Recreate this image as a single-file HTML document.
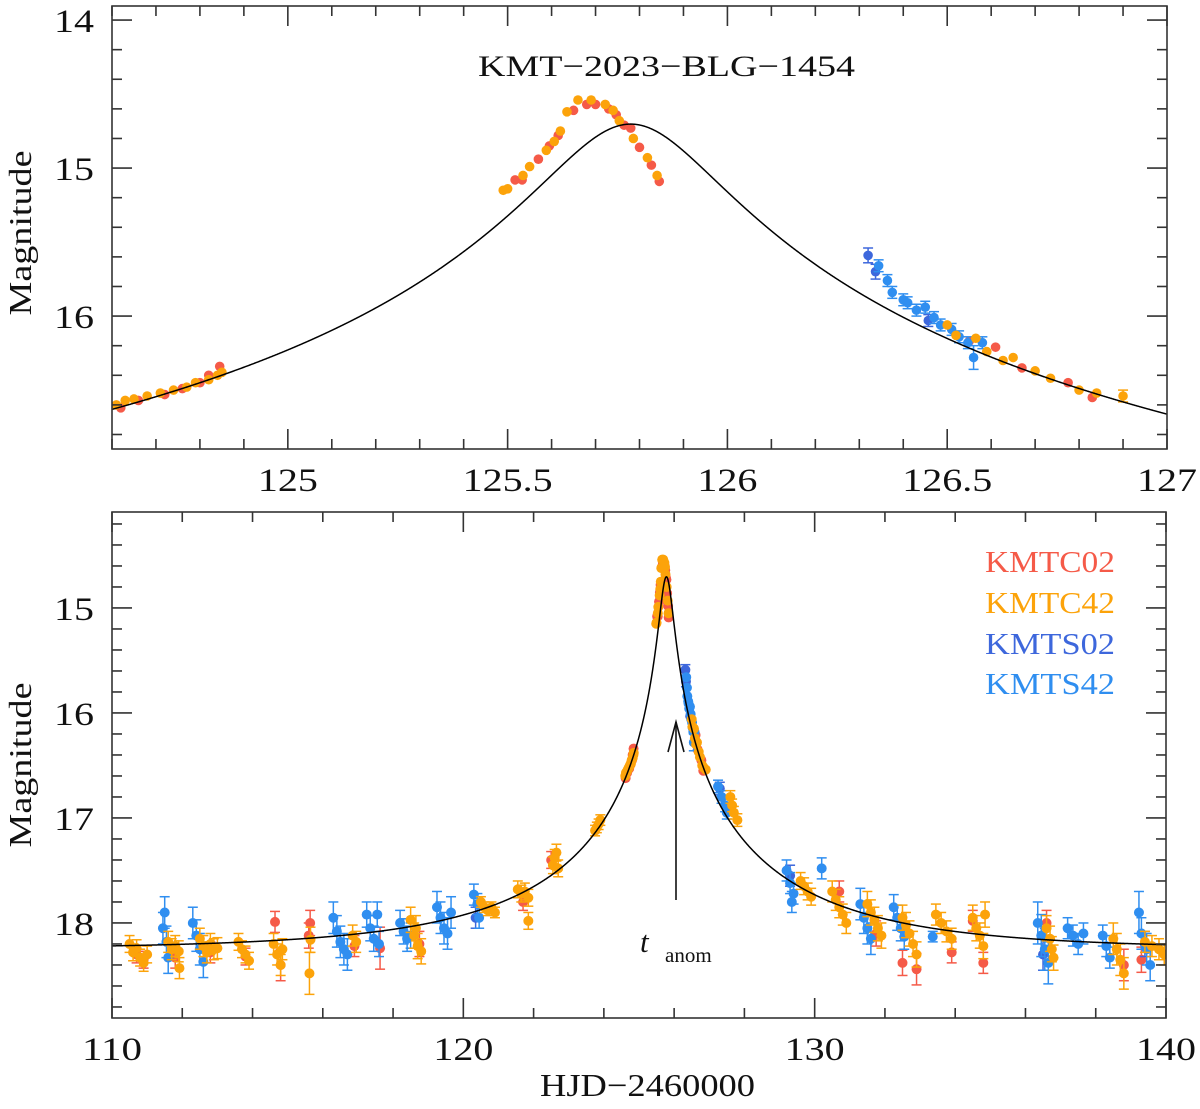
<!DOCTYPE html>
<html><head><meta charset="utf-8"><style>
html,body{margin:0;padding:0;background:#fff}
svg text{font-family:"Liberation Serif",serif;fill:#111}
</style></head><body>
<svg id="chart" width="1200" height="1104" viewBox="0 0 1200 1104" xmlns="http://www.w3.org/2000/svg">
<g id="top"></g>
<g id="bot"></g>
<text x="478" y="76" font-size="30" textLength="377" lengthAdjust="spacingAndGlyphs">KMT−2023−BLG−1454</text>
<text transform="translate(31,233) rotate(-90)" font-size="32" text-anchor="middle" textLength="165" lengthAdjust="spacingAndGlyphs">Magnitude</text>
<text transform="translate(31,765) rotate(-90)" font-size="32" text-anchor="middle" textLength="165" lengthAdjust="spacingAndGlyphs">Magnitude</text>
<text x="540" y="1096" font-size="32" textLength="215" lengthAdjust="spacingAndGlyphs">HJD−2460000</text>
<g font-size="31">
<text x="985" y="572" textLength="130" lengthAdjust="spacingAndGlyphs" style="fill:#f55a48">KMTC02</text>
<text x="985" y="613" textLength="130" lengthAdjust="spacingAndGlyphs" style="fill:#fca30a">KMTC42</text>
<text x="985" y="654" textLength="130" lengthAdjust="spacingAndGlyphs" style="fill:#3d67dc">KMTS02</text>
<text x="985" y="694" textLength="130" lengthAdjust="spacingAndGlyphs" style="fill:#2f8ef0">KMTS42</text>
</g>
<g>
<line x1="676" y1="900" x2="676" y2="722" stroke="#111" stroke-width="1.6"/>
<polyline points="668,752 676,722 684,752" fill="none" stroke="#111" stroke-width="1.6"/>
<text x="640" y="952" font-size="31" font-style="italic">t</text>
<text x="665" y="962" font-size="21">anom</text>
</g>
</svg>
<script>
// ---- data (HJD-2460000, magnitude, error) ----
const c02T=[124.62,124.66,124.72,124.76,124.80,124.82,124.845,125.517,125.533,125.57,125.595,125.615,125.65,125.68,125.70,125.73,125.747,125.765,125.78,125.80,125.827,125.845,126.55,126.61,126.67,126.775,126.83,
110.7,110.9,111.8,112.8,113.8,114.64,114.8,115.64,115.6,116.9,117.63,118.75,121.7,122.5,130.7,131.75,132.5,132.9,133.9,134.5,134.8,136.6,138.8,139.3];
const c02M=[16.62,16.57,16.53,16.49,16.45,16.40,16.34,15.08,15.08,14.94,14.85,14.78,14.61,14.57,14.57,14.60,14.64,14.71,14.73,14.86,14.98,15.09,16.17,16.21,16.35,16.45,16.55,
18.30,18.35,18.33,18.28,18.32,17.99,18.40,18.00,18.12,18.22,18.24,18.20,17.80,17.40,17.70,18.10,18.38,18.44,18.28,17.98,18.38,18.00,18.40,18.35];
const c02E=[.02,.02,.02,.02,.02,.02,.02,.01,.01,.01,.01,.01,.01,.01,.01,.01,.01,.01,.01,.01,.01,.01,.02,.02,.02,.02,.03,
.08,.08,.1,.1,.08,.1,.15,.12,.12,.1,.2,.12,.08,.08,.1,.12,.12,.15,.1,.1,.1,.12,.15,.12];
const c42T=[124.61,124.63,124.65,124.68,124.71,124.74,124.77,124.79,124.82,124.84,124.85,125.49,125.50,125.535,125.55,125.588,125.606,125.62,125.635,125.66,125.69,125.722,125.74,125.754,125.786,125.818,125.84,126.50,126.52,126.565,126.59,126.627,126.65,126.70,126.735,126.80,126.84,
110.5,110.6,110.7,110.8,110.9,111.0,111.6,111.7,111.8,111.9,111.92,112.5,112.6,112.7,112.8,112.9,113.0,113.6,113.7,113.8,113.9,114.6,114.7,114.8,114.85,115.62,115.65,116.85,116.95,118.5,118.6,118.7,118.8,118.65,120.5,120.6,120.7,120.8,120.9,121.55,121.65,121.75,121.85,121.85,122.55,122.6,122.65,122.7,123.75,123.8,123.85,123.9,126.9,127.6,127.65,127.7,127.8,129.6,129.7,129.8,129.9,130.5,130.6,130.7,130.8,130.9,131.5,131.6,131.7,131.8,131.9,132.5,132.6,132.7,132.8,132.9,133.45,133.6,133.75,133.9,134.5,134.6,134.7,134.8,134.85,136.6,136.7,136.75,136.8,138.5,138.6,138.7,138.8,139.4,139.6,139.8,139.95];
const c42M=[16.60,16.57,16.56,16.54,16.52,16.50,16.48,16.45,16.43,16.40,16.38,15.15,15.14,15.05,14.99,14.88,14.82,14.75,14.62,14.54,14.54,14.57,14.61,14.68,14.80,14.93,15.05,16.06,16.13,16.15,16.24,16.30,16.28,16.37,16.42,16.50,16.52,
18.20,18.28,18.24,18.33,18.38,18.30,18.18,18.25,18.22,18.27,18.43,18.15,18.22,18.28,18.20,18.25,18.24,18.18,18.25,18.30,18.36,18.20,18.30,18.40,18.25,18.48,18.16,18.12,18.18,17.97,18.12,18.22,18.27,18.05,17.80,17.85,17.88,17.85,17.90,17.68,17.72,17.70,17.76,17.98,17.45,17.38,17.33,17.48,17.12,17.09,17.06,17.02,16.54,16.80,16.88,16.95,17.02,17.60,17.65,17.70,17.75,17.70,17.78,17.85,17.92,18.00,17.82,17.90,17.97,18.05,18.12,17.95,18.02,18.10,18.20,18.30,17.92,18.00,18.08,18.15,17.95,18.05,18.12,18.22,17.92,18.05,18.15,18.25,18.33,18.15,18.25,18.35,18.48,18.18,18.22,18.25,18.30];
const c42E=[.02,.02,.02,.02,.02,.02,.02,.02,.02,.02,.02,.01,.01,.01,.01,.01,.01,.01,.01,.01,.01,.01,.01,.01,.01,.01,.01,.02,.02,.02,.02,.02,.02,.02,.02,.02,.03,
.08,.08,.08,.08,.08,.08,.1,.1,.1,.1,.1,.1,.1,.1,.1,.1,.1,.08,.08,.08,.08,.1,.1,.1,.1,.2,.12,.1,.1,.12,.12,.12,.12,.12,.05,.05,.05,.05,.05,.08,.08,.08,.08,.08,.08,.08,.08,.08,.05,.05,.05,.05,.04,.06,.06,.06,.06,.08,.08,.08,.08,.1,.1,.1,.1,.1,.12,.12,.12,.12,.12,.12,.12,.12,.12,.12,.1,.1,.1,.1,.12,.12,.12,.12,.12,.12,.12,.12,.12,.15,.15,.15,.15,.1,.1,.1,.1];
const s02T=[126.32,126.337,126.457,120.35,127.3,129.3,136.5,139.4];
const s02M=[15.59,15.70,16.03,17.95,16.72,17.55,18.30,18.20];
const s02E=[.05,.05,.04,.1,.06,.1,.15,.12];
const s42T=[126.344,126.364,126.375,126.40,126.41,126.43,126.45,126.47,126.485,126.51,126.527,126.547,126.56,126.58,
111.45,111.5,111.55,111.6,112.3,112.4,112.5,112.6,116.3,116.4,116.5,116.6,116.7,117.25,117.35,117.45,117.55,117.6,118.2,118.3,118.4,118.5,119.25,119.35,119.45,119.55,119.65,120.3,120.4,120.45,127.25,127.35,127.45,127.5,129.2,129.3,129.4,129.35,130.2,131.3,131.4,131.5,131.6,132.25,132.35,132.45,132.55,133.36,136.35,136.45,136.55,136.65,137.2,137.35,137.5,137.65,138.2,138.3,138.4,139.23,139.3,139.45,139.55];
const s42M=[15.66,15.76,15.84,15.89,15.91,15.96,15.94,16.01,16.06,16.09,16.14,16.18,16.28,16.18,
18.05,17.90,18.18,18.33,18.00,18.12,18.25,18.37,17.95,18.08,18.18,18.25,18.30,17.92,18.05,18.15,17.92,18.20,18.00,18.08,18.15,18.12,17.85,17.95,18.05,18.10,17.90,17.73,17.82,17.95,16.70,16.80,16.88,16.95,17.50,17.62,17.72,17.80,17.48,17.82,17.95,18.05,18.15,17.85,17.95,18.05,18.13,18.13,18.00,18.12,18.25,18.38,18.05,18.12,18.20,18.10,18.12,18.22,18.33,17.90,18.10,18.25,18.40];
const s42E=[.04,.04,.04,.04,.04,.04,.04,.04,.04,.04,.04,.04,.08,.04,
.15,.15,.15,.15,.15,.15,.15,.15,.15,.15,.15,.15,.15,.12,.12,.12,.12,.12,.12,.12,.12,.12,.15,.15,.15,.15,.15,.1,.1,.1,.06,.06,.06,.06,.1,.1,.1,.1,.1,.15,.15,.15,.15,.12,.12,.12,.12,.05,.2,.2,.2,.2,.1,.1,.1,.1,.1,.1,.1,.2,.15,.15,.15];
// model parameters (PSPL)
const modelT0=125.78, modelU0=0.027, modelTE=7, modelK=0.7, modelBase=18.25;
const topXTicks=["125","125.5","126","126.5","127"];
const botXTicks=["110","120","130","140"];
const topYTicks=["14","15","16"];
const botYTicks=["15","16","17","18"];

const NS="http://www.w3.org/2000/svg";
function el(tag,attrs,parent){const e=document.createElementNS(NS,tag);for(const k in attrs)e.setAttribute(k,attrs[k]);parent.appendChild(e);return e;}
function model(t){const u=Math.sqrt(modelU0*modelU0+Math.pow((t-modelT0)/modelTE,2));const A=(u*u+2)/(u*Math.sqrt(u*u+4));return modelBase-2.5*Math.log10(1+modelK*(A-1));}

function panel(g,P,r){
  const sx=t=>P.x0+(t-P.t0)/(P.t1-P.t0)*(P.x1-P.x0);
  const sy=m=>P.y0+(m-P.m0)/(P.m1-P.m0)*(P.y1-P.y0);
  const cp=el('clipPath',{id:'cp'+P.id},g);el('rect',{x:P.x0,y:P.y0,width:P.x1-P.x0,height:P.y1-P.y0},cp);
  const dg=el('g',{'clip-path':'url(#cp'+P.id+')'},g);
  
  
  const series=[["kmtc02",c02T,c02M,c02E,"#f55a48"],["kmts02",s02T,s02M,s02E,"#3d67dc"],["kmts42",s42T,s42M,s42E,"#2f8ef0"],["kmtc42",c42T,c42M,c42E,"#fca30a"]];
  for(const [nm,T,M,E,col] of series){
    const sg=el('g',{fill:col,stroke:col,'stroke-width':1.5},dg);
    
    
    for(let i=0;i<T.length;i++){
      const x=sx(T[i]),y=sy(M[i]),ey=Math.abs(sy(M[i]+E[i])-y);
      if(ey>r){el('line',{x1:x,y1:y-ey,x2:x,y2:y+ey},sg);el('line',{x1:x-5,y1:y-ey,x2:x+5,y2:y-ey},sg);el('line',{x1:x-5,y1:y+ey,x2:x+5,y2:y+ey},sg);}
      const c=el('circle',{cx:x,cy:y,r:r,stroke:'none'},sg);
      
      
    }
  }
  let d='';for(let i=0;i<=3000;i++){const t=P.t0+(P.t1-P.t0)*i/3000;d+=(i?'L':'M')+sx(t).toFixed(2)+' '+sy(model(t)).toFixed(2);}
  const mp=el('path',{d:d,fill:'none',stroke:'#000','stroke-width':1.5},dg);
  
  
  const ax=el('g',{stroke:'#333','stroke-width':1.6,fill:'none'},g);
  
  
  el('rect',{x:P.x0,y:P.y0,width:P.x1-P.x0,height:P.y1-P.y0},ax);
  const nmx=Math.round((P.t1-P.t0)/P.minx);
  for(let i=0;i<=nmx;i++){const t=P.t0+i*P.minx;const x=sx(t);const maj=Math.abs(t/P.majx-Math.round(t/P.majx))<1e-6;const L=maj?20:10;
    el('line',{x1:x,y1:P.y1,x2:x,y2:P.y1-L},ax);el('line',{x1:x,y1:P.y0,x2:x,y2:P.y0+L},ax);}
  const mStart=Math.ceil(P.m0/0.2-1e-6)*0.2;
  for(let m=mStart;m<=P.m1+1e-6;m+=0.2){const y=sy(m);const maj=Math.abs(m-Math.round(m))<1e-6;const L=maj?20:10;
    el('line',{x1:P.x0,y1:y,x2:P.x0+L,y2:y},ax);el('line',{x1:P.x1,y1:y,x2:P.x1-L,y2:y},ax);}
  for(const s of P.xt){const w=s.length*20-(s.indexOf('.')>=0?10:0);const t=el('text',{x:sx(parseFloat(s)),y:P.y1+42,'font-size':33,'text-anchor':'middle',textLength:w,lengthAdjust:'spacingAndGlyphs'},g);t.textContent=s;
    
    }
  for(const s of P.yt){const t=el('text',{x:P.x0-18-s.length*20,y:sy(parseFloat(s))+12,'font-size':33,textLength:s.length*20,lengthAdjust:'spacingAndGlyphs'},g);t.textContent=s;
    
    }
}
panel(document.getElementById('top'),{id:'t',x0:112,x1:1167,y0:6,y1:449,t0:124.6,t1:127,m0:13.905,m1:16.898,minx:0.1,majx:0.5,xt:topXTicks,yt:topYTicks},4.8);
panel(document.getElementById('bot'),{id:'b',x0:112,x1:1166,y0:512,y1:1018,t0:110,t1:140,m0:14.086,m1:18.905,minx:2,majx:10,xt:botXTicks,yt:botYTicks},5);
</script>
</body></html>
